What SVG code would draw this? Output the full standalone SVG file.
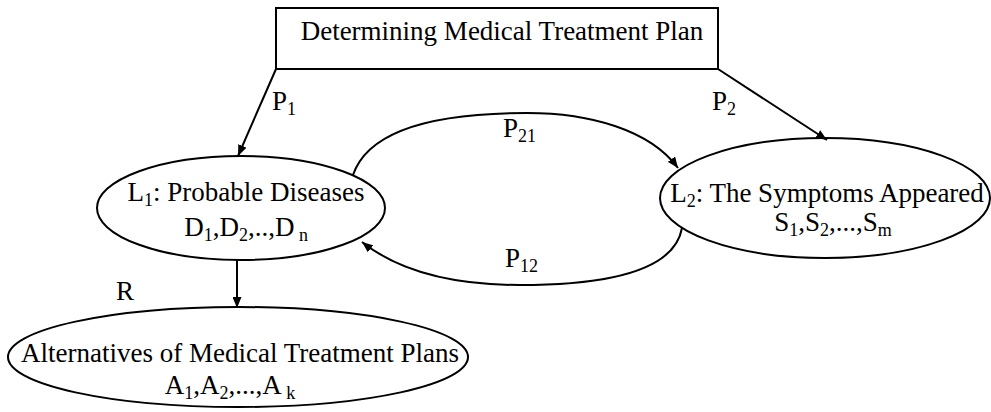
<svg xmlns="http://www.w3.org/2000/svg" width="991" height="412" viewBox="0 0 991 412">
<style>
text{font-family:"Liberation Serif","Times New Roman",serif;font-size:27px;fill:#000}
.sub{font-size:18px}
.shape{fill:#fff;stroke:#000;stroke-width:2}
.edge{fill:none;stroke:#000;stroke-width:2}
</style>
<defs>
<marker id="ah" viewBox="0 0 10 10" refX="10" refY="5" markerWidth="11" markerHeight="9" orient="auto" markerUnits="userSpaceOnUse" preserveAspectRatio="none">
<path d="M0,0 L10,5 L0,10 z" fill="#000"/>
</marker>
</defs>
<g id="root">
<rect class="shape" x="276" y="8" width="442" height="61"/>
<text x="502" y="40" text-anchor="middle">Determining Medical Treatment Plan</text>
</g>
<g id="L1">
<ellipse class="shape" cx="241" cy="208" rx="144" ry="52"/>
<text x="246" y="201" text-anchor="middle">L<tspan class="sub" dy="5">1</tspan><tspan dy="-5">: Probable Diseases</tspan></text>
<text x="246" y="236" text-anchor="middle">D<tspan class="sub" dy="5">1</tspan><tspan dy="-5">,D</tspan><tspan class="sub" dy="5">2</tspan><tspan dy="-5">,..,D</tspan><tspan class="sub" dy="5"> n</tspan></text>
</g>
<g id="L2">
<ellipse class="shape" cx="825" cy="198" rx="165" ry="60"/>
<text x="827" y="202" text-anchor="middle">L<tspan class="sub" dy="5">2</tspan><tspan dy="-5">: The Symptoms Appeared</tspan></text>
<text x="833" y="231" text-anchor="middle">S<tspan class="sub" dy="5">1</tspan><tspan dy="-5">,S</tspan><tspan class="sub" dy="5">2</tspan><tspan dy="-5">,...,S</tspan><tspan class="sub" dy="5">m</tspan></text>
</g>
<g id="A">
<ellipse class="shape" cx="238" cy="357" rx="230" ry="50"/>
<text x="240" y="362" text-anchor="middle">Alternatives of Medical Treatment Plans</text>
<text x="230" y="394" text-anchor="middle">A<tspan class="sub" dy="5">1</tspan><tspan dy="-5">,A</tspan><tspan class="sub" dy="5">2</tspan><tspan dy="-5">,...,A</tspan><tspan class="sub" dy="5"> k</tspan></text>
</g>
<g id="connectors">
<path class="edge" d="M276,69 L238,156" marker-end="url(#ah)"/>
<path class="edge" d="M718,69 L827,140" marker-end="url(#ah)"/>
<path class="edge" d="M353,175 C370,125 450,113 527,113 C590,113 650,130 678,168" marker-end="url(#ah)"/>
<path class="edge" d="M682,228 C675,268 615,285 520,285 C455,285 400,272 362,242" marker-end="url(#ah)"/>
<path class="edge" d="M237,260 L237,308" marker-end="url(#ah)"/>
</g>
<g id="labels">
<text x="272" y="110">P<tspan class="sub" dy="5">1</tspan></text>
<text x="712" y="110">P<tspan class="sub" dy="5">2</tspan></text>
<text x="503" y="137">P<tspan class="sub" dy="5">21</tspan></text>
<text x="505" y="267">P<tspan class="sub" dy="5">12</tspan></text>
<text x="116" y="300">R</text>
</g>
</svg>
